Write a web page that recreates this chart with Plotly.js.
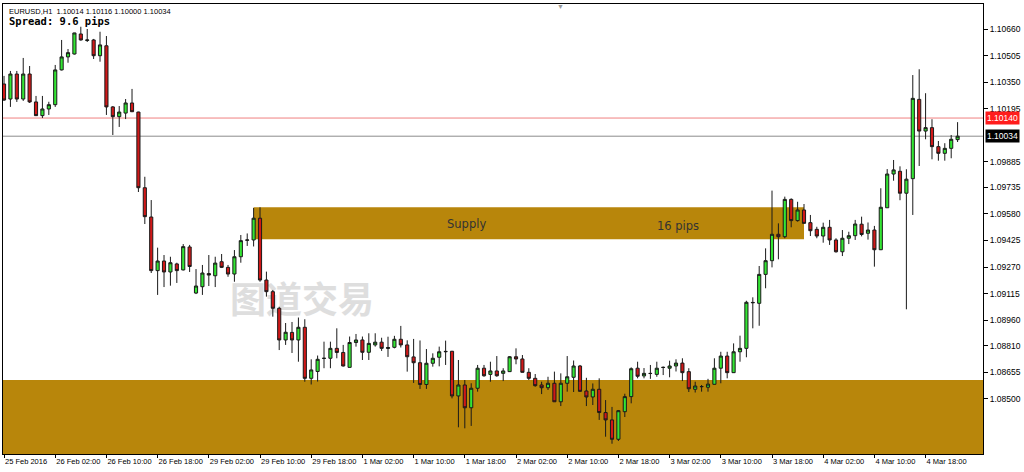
<!DOCTYPE html>
<html><head><meta charset="utf-8">
<script src="https://cdn.plot.ly/plotly-3.0.1.min.js"></script>
<style>html,body{margin:0;padding:0;background:#fff;}#chart{width:1024px;height:472px;}</style>
</head><body><div id="chart"></div>
<script>
const openP = [1.10339,1.10251,1.10397,1.10251,1.10397,1.10234,1.10154,1.10193,1.10218,1.10421,
1.10497,1.10514,1.10631,1.10593,1.10596,1.10504,1.10562,1.10205,1.10148,1.10169,
1.10228,1.10175,1.09733,1.09562,1.09249,1.09305,1.09241,1.09288,1.09253,1.09387,
1.09118,1.09155,1.09232,1.09219,1.09301,1.09268,1.09229,1.09330,1.09426,1.09428,
1.09555,1.09194,1.09126,1.09029,1.08844,1.08888,1.08844,1.08918,1.08620,1.08660,
1.08736,1.08737,1.08795,1.08771,1.08684,1.08829,1.08844,1.08772,1.08815,1.08831,
1.08794,1.08801,1.08848,1.08815,1.08745,1.08711,1.08584,1.08708,1.08743,1.08775,
1.08778,1.08517,1.08581,1.08448,1.08562,1.08679,1.08643,1.08663,1.08649,1.08659,
1.08746,1.08733,1.08655,1.08620,1.08581,1.08565,1.08591,1.08483,1.08591,1.08626,
1.08692,1.08546,1.08511,1.08556,1.08420,1.08377,1.08264,1.08425,1.08513,1.08679,
1.08634,1.08649,1.08643,1.08683,1.08679,1.08692,1.08709,1.08659,1.08556,1.08571,
1.08568,1.08585,1.08679,1.08750,1.08653,1.08775,1.08795,1.09061,1.09058,1.09227,
1.09307,1.09461,1.09447,1.09665,1.09541,1.09603,1.09529,1.09490,1.09451,1.09502,
1.09428,1.09359,1.09438,1.09453,1.09520,1.09467,1.09486,1.09371,1.09616,1.09813,
1.09829,1.09701,1.09786,1.10249,1.10064,1.10084,1.09973,1.09934,1.09963,1.10014];
const highP = [1.10386,1.10415,1.10415,1.10491,1.10444,1.10269,1.10269,1.10235,1.10450,1.10596,
1.10543,1.10638,1.10673,1.10660,1.10602,1.10644,1.10619,1.10210,1.10210,1.10251,
1.10310,1.10177,1.09797,1.09661,1.09383,1.09340,1.09330,1.09295,1.09404,1.09399,
1.09258,1.09282,1.09340,1.09330,1.09346,1.09282,1.09369,1.09457,1.09466,1.09615,
1.09619,1.09243,1.09136,1.09038,1.08943,1.08949,1.08975,1.08965,1.08731,1.08753,
1.08834,1.08834,1.08912,1.08815,1.08864,1.08879,1.08864,1.08883,1.08883,1.08857,
1.08863,1.08868,1.08926,1.08842,1.08850,1.08841,1.08791,1.08766,1.08805,1.08840,
1.08780,1.08727,1.08610,1.08591,1.08698,1.08698,1.08717,1.08750,1.08679,1.08750,
1.08795,1.08756,1.08679,1.08645,1.08600,1.08629,1.08659,1.08649,1.08750,1.08724,
1.08698,1.08623,1.08590,1.08620,1.08493,1.08453,1.08435,1.08530,1.08684,1.08717,
1.08680,1.08698,1.08717,1.08689,1.08723,1.08731,1.08737,1.08679,1.08600,1.08581,
1.08617,1.08737,1.08775,1.08775,1.08824,1.08869,1.09073,1.09093,1.09276,1.09379,
1.09716,1.09525,1.09681,1.09671,1.09651,1.09638,1.09574,1.09505,1.09529,1.09545,
1.09438,1.09486,1.09476,1.09545,1.09564,1.09530,1.09510,1.09730,1.09842,1.09895,
1.09858,1.09841,1.10391,1.10425,1.10285,1.10133,1.10006,1.09993,1.10041,1.10116];
const lowP = [1.10240,1.10205,1.10234,1.10240,1.10228,1.10152,1.10140,1.10158,1.10205,1.10418,
1.10463,1.10511,1.10592,1.10584,1.10485,1.10469,1.10158,1.10041,1.10088,1.10134,
1.10175,1.09708,1.09521,1.09235,1.09107,1.09153,1.09161,1.09177,1.09250,1.09241,
1.09112,1.09107,1.09159,1.09153,1.09264,1.09213,1.09184,1.09295,1.09393,1.09390,
1.09184,1.09097,1.08980,1.08785,1.08815,1.08768,1.08717,1.08600,1.08584,1.08601,
1.08679,1.08679,1.08737,1.08689,1.08683,1.08805,1.08727,1.08727,1.08805,1.08780,
1.08745,1.08795,1.08800,1.08659,1.08593,1.08558,1.08558,1.08688,1.08690,1.08698,
1.08503,1.08334,1.08328,1.08342,1.08542,1.08629,1.08600,1.08629,1.08604,1.08657,
1.08702,1.08654,1.08610,1.08571,1.08528,1.08552,1.08482,1.08458,1.08542,1.08540,
1.08542,1.08458,1.08464,1.08377,1.08279,1.08238,1.08254,1.08394,1.08474,1.08620,
1.08620,1.08617,1.08629,1.08639,1.08626,1.08660,1.08604,1.08540,1.08537,1.08542,
1.08542,1.08584,1.08591,1.08620,1.08651,1.08717,1.08743,1.08912,1.08927,1.09146,
1.09268,1.09315,1.09438,1.09502,1.09535,1.09524,1.09451,1.09438,1.09412,1.09399,
1.09354,1.09334,1.09404,1.09428,1.09449,1.09430,1.09272,1.09369,1.09615,1.09774,
1.09660,1.09023,1.09574,1.09860,1.10016,1.09899,1.09891,1.09891,1.09905,1.10000];
const closeP = [1.10245,1.10397,1.10251,1.10397,1.10234,1.10154,1.10193,1.10218,1.10421,1.10497,
1.10522,1.10637,1.10596,1.10596,1.10504,1.10567,1.10205,1.10148,1.10175,1.10228,
1.10177,1.09733,1.09564,1.09249,1.09305,1.09241,1.09295,1.09249,1.09389,1.09273,
1.09159,1.09235,1.09223,1.09293,1.09268,1.09229,1.09330,1.09424,1.09428,1.09555,
1.09194,1.09126,1.09029,1.08844,1.08889,1.08844,1.08918,1.08620,1.08669,1.08731,
1.08737,1.08795,1.08771,1.08692,1.08829,1.08844,1.08772,1.08824,1.08831,1.08795,
1.08800,1.08848,1.08815,1.08746,1.08711,1.08584,1.08708,1.08737,1.08775,1.08777,
1.08517,1.08581,1.08448,1.08562,1.08679,1.08635,1.08663,1.08635,1.08663,1.08746,
1.08733,1.08655,1.08620,1.08577,1.08565,1.08591,1.08483,1.08591,1.08629,1.08692,
1.08544,1.08511,1.08556,1.08420,1.08377,1.08264,1.08431,1.08513,1.08676,1.08632,
1.08649,1.08648,1.08679,1.08684,1.08692,1.08709,1.08653,1.08559,1.08575,1.08572,
1.08586,1.08679,1.08750,1.08653,1.08775,1.08795,1.09064,1.09063,1.09227,1.09307,
1.09461,1.09447,1.09665,1.09541,1.09603,1.09525,1.09482,1.09451,1.09502,1.09428,
1.09359,1.09438,1.09453,1.09521,1.09460,1.09486,1.09371,1.09619,1.09813,1.09837,
1.09701,1.09783,1.10255,1.10064,1.10084,1.09973,1.09934,1.09963,1.10016,1.10034];

const xTickIdx = [0,8,16,24,32,40,48,56,64,72,80,88,96,104,112,120,128,136,144];
const xTickText = ["25 Feb 2016","26 Feb 02:00","26 Feb 10:00","26 Feb 18:00","29 Feb 02:00","29 Feb 10:00",
  "29 Feb 18:00","1 Mar 02:00","1 Mar 10:00","1 Mar 18:00","2 Mar 02:00","2 Mar 10:00","2 Mar 18:00",
  "3 Mar 02:00","3 Mar 10:00","3 Mar 18:00","4 Mar 02:00","4 Mar 10:00","4 Mar 18:00"];
const yTickVals = [1.10660,1.10505,1.10350,1.10195,1.09885,1.09735,1.09580,1.09425,1.09270,1.09115,1.08960,1.08810,1.08655,1.08500];
const yTickText = ["1.10660","1.10505","1.10350","1.10195","1.09885","1.09735","1.09580","1.09425","1.09270","1.09115","1.08960","1.08810","1.08655","1.08500"];

const askLevel = 1.10140;
const bidLevel = 1.10034;
const supplyFrom = 39, supplyTo = 125, supplyTop = 1.09619, supplyBottom = 1.09432;
const demandTop = 1.08610;
const yRange = [1.08178, 1.10806];
const xRange = [-0.16, 152.97];

const xIdx = openP.map((_, i) => i);
const gold = '#B8860B';

const trace = {
  type: 'candlestick', x: xIdx, open: openP, high: highP, low: lowP, close: closeP,
  increasing: {line: {color: '#1a1a1a', width: 1}, fillcolor: '#33e633'},
  decreasing: {line: {color: '#1a1a1a', width: 1}, fillcolor: '#d01818'},
  whiskerwidth: 0, hoverinfo: 'skip'
};

const layout = {
  width: 1024, height: 472,
  margin: {l: 3, r: 41, t: 4, b: 18},
  paper_bgcolor: '#ffffff', plot_bgcolor: '#ffffff',
  showlegend: false,
  xaxis: {
    range: xRange, rangeslider: {visible: false}, showgrid: false, zeroline: false,
    tickmode: 'array', tickvals: xTickIdx, ticktext: xTickText, tickangle: 0,
    ticks: 'outside', ticklen: 3, tickcolor: '#000', ticklabelposition: 'outside right',
    tickfont: {family: 'Liberation Sans, Arial, sans-serif', size: 7.5, color: '#000'},
    showline: true, linecolor: '#000', linewidth: 1, mirror: true, automargin: false
  },
  yaxis: {
    range: yRange, side: 'right', showgrid: false, zeroline: false,
    tickmode: 'array', tickvals: yTickVals, ticktext: yTickText,
    ticks: 'outside', ticklen: 4, tickcolor: '#000',
    tickfont: {family: 'Liberation Sans, Arial, sans-serif', size: 8.5, color: '#000'},
    showline: true, linecolor: '#000', linewidth: 1, mirror: true, automargin: false
  },
  shapes: [
    {type: 'rect', xref: 'paper', yref: 'y', x0: 0, x1: 1, y0: yRange[0], y1: demandTop,
     fillcolor: gold, line: {width: 0}, layer: 'below'},
    {type: 'rect', xref: 'x', yref: 'y', x0: supplyFrom, x1: supplyTo, y0: supplyBottom, y1: supplyTop,
     fillcolor: gold, line: {width: 0}, layer: 'below'},
    {type: 'line', xref: 'paper', yref: 'y', x0: 0, x1: 1, y0: askLevel, y1: askLevel,
     line: {color: '#f08080', width: 1}, layer: 'below'},
    {type: 'line', xref: 'paper', yref: 'y', x0: 0, x1: 1, y0: bidLevel, y1: bidLevel,
     line: {color: '#8c8c8c', width: 1}, layer: 'below'},
    {type: 'rect', xref: 'paper', yref: 'paper', x0: 0.22, x1: 0.39, y0: 0.29, y1: 0.38,
     line: {width: 0}, fillcolor: 'rgba(0,0,0,0)', layer: 'below',
     label: {text: '图道交易', textposition: 'middle center',
       font: {family: 'Noto Sans CJK SC', size: 36, color: '#dedede', weight: 'bold'}}}
  ],
  annotations: [
    {xref: 'paper', yref: 'paper', x: 0.004, y: 0.9844, xanchor: 'left', yanchor: 'middle',
     text: 'EURUSD,H1\u00a0 1.10014 1.10116 1.10000 1.10034', showarrow: false,
     font: {family: 'Liberation Sans, Arial, sans-serif', size: 7.5, color: '#000'}},
    {xref: 'paper', yref: 'paper', x: 0.004, y: 0.9622, xanchor: 'left', yanchor: 'middle',
     text: '<b>Spread: 9.6 pips</b>', showarrow: false,
     font: {family: 'DejaVu Sans Mono, monospace', size: 10.5, color: '#000'}},
    {xref: 'x', yref: 'y', x: 72.2, y: 1.09521, text: 'Supply', showarrow: false,
     font: {family: 'DejaVu Sans, sans-serif', size: 11.5, color: '#333'}},
    {xref: 'x', yref: 'y', x: 105.3, y: 1.09510, text: '16 pips', showarrow: false,
     font: {family: 'DejaVu Sans, sans-serif', size: 11.5, color: '#333'}},
    {xref: 'paper', yref: 'y', x: 1, y: askLevel, xanchor: 'left', xshift: 2, text: '1.10140',
     showarrow: false, bgcolor: '#ff1c1c', borderpad: 1,
     font: {family: 'Liberation Sans, Arial, sans-serif', size: 8.5, color: '#fff'}},
    {xref: 'paper', yref: 'y', x: 1, y: bidLevel, xanchor: 'left', xshift: 2, text: '1.10034',
     showarrow: false, bgcolor: '#000', borderpad: 1,
     font: {family: 'Liberation Sans, Arial, sans-serif', size: 8.5, color: '#fff'}},
    {xref: 'paper', yref: 'paper', x: 0.5684, y: 1, yanchor: 'top', yshift: 4, text: '\u25BC',
     showarrow: false, font: {size: 7, color: '#9a9a9a'}}
  ]
};

Plotly.newPlot('chart', [trace], layout, {displayModeBar: false, staticPlot: true});
</script>
</body></html>
